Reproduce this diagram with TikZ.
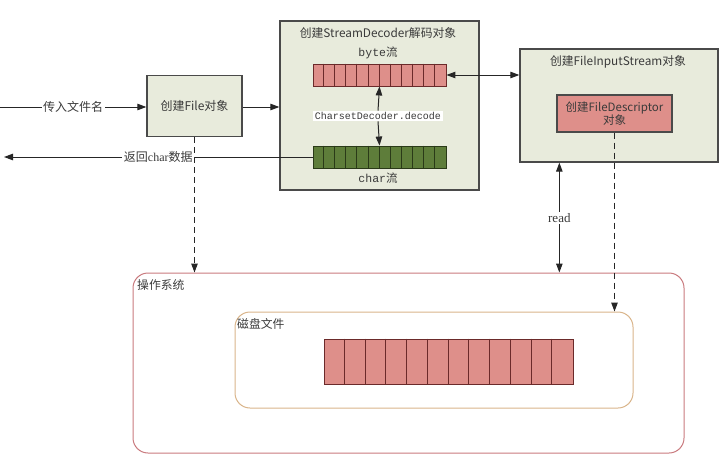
\documentclass[tikz,border=0pt]{standalone}
\usepackage{fontspec}
\setmainfont{Liberation Serif}
\newfontfamily\cjk{Noto Sans CJK SC}
\newfontfamily\mono{Liberation Mono}
\usetikzlibrary{arrows.meta,calc}
\definecolor{boxfill}{HTML}{E8EBDC}
\definecolor{boxline}{HTML}{4A4A4A}
\definecolor{cellpink}{HTML}{DE8F8A}
\definecolor{pinkline}{HTML}{6B2A2A}
\definecolor{cellgreen}{HTML}{5E7D3A}
\definecolor{greenline}{HTML}{2A3A18}
\definecolor{osline}{HTML}{C97A7E}
\definecolor{diskline}{HTML}{D9B48A}
\definecolor{txt}{HTML}{3A3A3A}
\tikzset{
  obj/.style={draw=boxline, line width=1.3pt, fill=boxfill, inner sep=0pt},
  arr/.style={draw=pinkline, line width=0.9pt, fill=cellpink, inner sep=0pt},
  garr/.style={draw=greenline, line width=0.9pt, fill=cellgreen, inner sep=0pt},
  conn/.style={draw=black!85, line width=1pt, -{Triangle[length=9pt,width=6.5pt]}},
  bconn/.style={draw=black!85, line width=1pt, {Triangle[length=9pt,width=6.5pt]}-{Triangle[length=9pt,width=6.5pt]}},
  dconn/.style={draw=black!85, line width=1pt, dash pattern=on 6pt off 4pt, -{Triangle[length=9pt,width=6.5pt]}},
  lab/.style={fill=white, inner sep=1.5pt, text=txt, font=\fontsize{12}{14}\selectfont},
  title/.style={text=txt, font=\cjk\fontsize{11.8}{14}\selectfont, inner sep=0pt},
}
\begin{document}
\begin{tikzpicture}[x=1pt, y=-1pt]
\useasboundingbox (0,0) rectangle (721,458);
% OS and disk
\node[draw=osline, line width=1pt, rounded corners=15pt, minimum width=551pt, minimum height=180pt] (os) at (408.5,363) {};
\node[anchor=west, title] (oslab) at (137,285) {操作系统};
\node[draw=diskline, line width=1pt, rounded corners=15pt, minimum width=398pt, minimum height=96pt] (disk) at (434,360) {};
\node[anchor=west, title] (disklab) at (237,324) {磁盘文件};
\node[arr, minimum width=249pt, minimum height=45pt] (diskarr) at (448.5,361.5) {};
\foreach \i in {1,...,11} \draw[pinkline, line width=0.9pt] ($(diskarr.north west)+(\i*20.75,0)$) -- ($(diskarr.south west)+(\i*20.75,0)$);
% File box
\node[obj, minimum width=95pt, minimum height=61pt, text=txt, font=\cjk\fontsize{12}{14}\selectfont] (file) at (194.5,106) {创建File对象};
% Decoder box
\node[obj, minimum width=199pt, minimum height=169pt] (dec) at (379.5,105.5) {};
\node[title] (dectitle) at (378,33) {创建StreamDecoder解码对象};
\node[text=txt, inner sep=0pt, font=\fontsize{11.5}{13}\selectfont] (bytelab) at (378,53) {\mono byte\cjk 流};
\node[arr, minimum width=133pt, minimum height=22pt] (bytearr) at (379.5,75) {};
\foreach \i in {1,...,11} \draw[pinkline, line width=0.9pt] ($(bytearr.north west)+(\i*11.083,0)$) -- ($(bytearr.south west)+(\i*11.083,0)$);
\node[garr, minimum width=133pt, minimum height=22pt] (chararr) at (379.5,157) {};
\foreach \i in {1,...,11} \draw[greenline, line width=0.9pt] ($(chararr.north west)+(\i*11.083,0)$) -- ($(chararr.south west)+(\i*11.083,0)$);
\node[text=txt, inner sep=0pt, font=\fontsize{11.5}{13}\selectfont] (charlab) at (378,178) {\mono char\cjk 流};
\node[lab, font=\mono\fontsize{10}{12}\selectfont] (decode) at (378,116) {CharsetDecoder.decode};
% FileInputStream box
\node[obj, minimum width=198pt, minimum height=113pt] (fis) at (619,105.5) {};
\node[title] (fistitle) at (618,62) {创建FileInputStream对象};
\node[draw=boxline, line width=1.3pt, fill=cellpink, minimum width=115pt, minimum height=37pt, inner sep=0pt, align=center, text=txt, font=\cjk\fontsize{11.5}{13}\selectfont] (fd) at (614.5,113.5) {创建FileDescriptor\\对象};
% connectors
\coordinate (in) at (0,107);
\coordinate (out) at (4,157);
\coordinate (rtop) at ([xshift=40pt]fis.south west);
\draw[conn] (in) -- node[lab, font=\cjk\fontsize{12}{14}\selectfont] {传入文件名} (in -| file.west);
\draw[conn] (file.east |- in) -- (in -| dec.west);
\draw[dconn] (file.south) -- (file.south |- os.north);
\draw[conn] (chararr.west) -- node[lab, pos=0.5] {\cjk 返回\rmfamily char\cjk 数据} (out);
\draw[bconn] (bytearr.east) -- (bytearr.east -| fis.west);
\draw[conn] (decode.north) -- (bytearr.south);
\draw[conn] (decode.south) -- (chararr.north);
\draw[bconn] (rtop) -- node[lab, font=\fontsize{13}{15}\selectfont] {read} (rtop |- os.north);
\draw[dconn] (fd.south) -- (fd.south |- disk.north);
\end{tikzpicture}
\end{document}
